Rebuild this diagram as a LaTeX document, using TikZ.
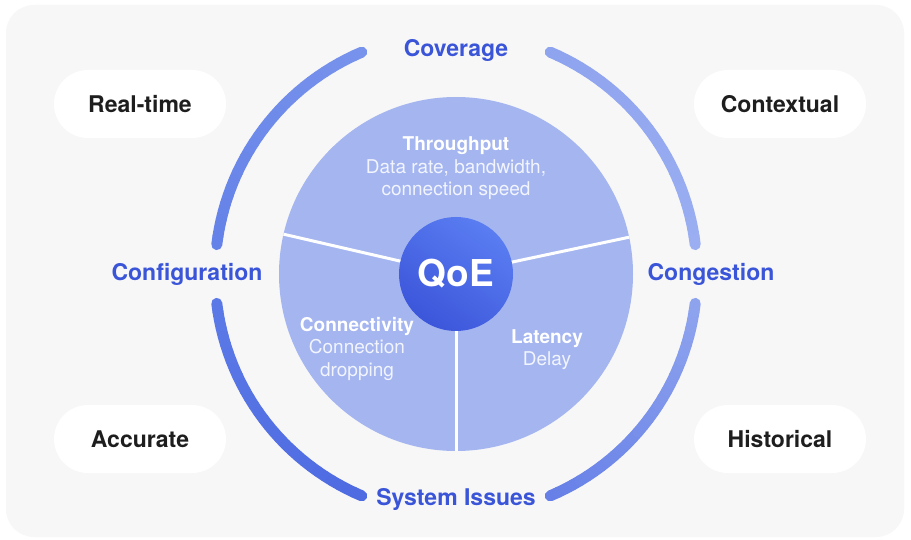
\documentclass[tikz,border=0pt]{standalone}
\usepackage{fontspec}
\setmainfont{TeX Gyre Heros}
\definecolor{bggray}{HTML}{F7F7F8}
\definecolor{lblblue}{HTML}{3A55D8}
\definecolor{pilltext}{HTML}{1E1E1E}
\definecolor{piefill}{HTML}{A4B5F0}
\definecolor{pietext}{HTML}{F2F5FD}
\definecolor{qoelight}{HTML}{5A7DF2}
\definecolor{qoedark}{HTML}{3C56DA}
\definecolor{ringA}{HTML}{7893EC}
\definecolor{ringB}{HTML}{6582E8}
\definecolor{ringC}{HTML}{5B79E6}
\definecolor{ringD}{HTML}{4F6BE2}
\definecolor{ringE}{HTML}{6680E7}
\definecolor{ringF}{HTML}{8EA3EE}
\definecolor{ringG}{HTML}{9AAEF1}
\definecolor{ringH}{HTML}{8FA4EF}
\begin{document}
\begin{tikzpicture}[x=1pt,y=1pt,
  lbl/.style={text=lblblue, font=\bfseries\fontsize{23}{27}\selectfont, anchor=base, inner sep=0},
  pill/.style={fill=white, rounded corners=34pt, minimum width=172pt, minimum height=68pt, inner sep=0,
    text=pilltext, font=\bfseries\fontsize{23}{27}\selectfont},
  piehead/.style={text=white, font=\bfseries\fontsize{19}{22}\selectfont, anchor=base, inner sep=0},
  piebody/.style={text=pietext, font=\fontsize{19}{22}\selectfont, anchor=base, inner sep=0},
  ring/.style={line width=11pt, line cap=round},
  divider/.style={draw=white, line width=3pt}]
\useasboundingbox (0,0) rectangle (911,-540);
\fill[white] (0,0) rectangle (911,-540);
\fill[bggray, rounded corners=28pt] (6,-5) rectangle (904,-537);

% pie
\node[circle, fill=piefill, minimum size=354pt, inner sep=0, outer sep=0] (pie) at (456,-274) {};
\draw[divider] (pie.center) -- (pie.12.5);
\draw[divider] (pie.center) -- (pie.167.5);
\draw[divider] (pie.center) -- (pie.270);

% ring arcs
\foreach \sa/\ea/\ca/\cb in {113/173/ringA/ringB, 187/247/ringC/ringD, 293/353/ringE/ringF, 7/67/ringG/ringH} {
  \foreach \i in {0,...,29} {
    \pgfmathsetmacro{\s}{\sa+(\ea-\sa)*\i/30}
    \pgfmathsetmacro{\e}{\sa+(\ea-\sa)*(\i+1)/30}
    \pgfmathtruncatemacro{\p}{round(100*\i/29)}
    \draw[ring, draw=\cb!\p!\ca] ([shift={(\s:241)}]pie.center) arc[start angle=\s, end angle=\e, radius=241];
  }
}

% center
\node[circle, minimum size=114pt, inner sep=0, top color=qoelight, bottom color=qoedark, shading angle=-35,
  text=white, font=\bfseries\fontsize{37}{40}\selectfont] (qoe) at (456,-274) {QoE};

% ring labels
\node[lbl] (coverage) at (456,-57) {Coverage};
\node[lbl] (config) at (187,-281) {Configuration};
\node[lbl] (congestion) at (711,-281) {Congestion};
\node[lbl] (sysissues) at (456,-505) {System Issues};

% pills
\node[pill] (realtime) at (140,-104) {Real-time};
\node[pill] (contextual) at (780,-104) {Contextual};
\node[pill] (accurate) at (140,-439) {Accurate};
\node[pill] (historical) at (780,-439) {Historical};

% pie texts
\node[piehead] (tp1) at (456,-151) {Throughput};
\node[piebody] (tp2) at (456,-173.5) {Data rate, bandwidth,};
\node[piebody] (tp3) at (456,-196) {connection speed};
\node[piehead] (cn1) at (357,-331) {Connectivity};
\node[piebody] (cn2) at (357,-353.5) {Connection};
\node[piebody] (cn3) at (357,-376) {dropping};
\node[piehead] (lt1) at (547,-343) {Latency};
\node[piebody] (lt2) at (547,-365.5) {Delay};
\end{tikzpicture}
\end{document}
